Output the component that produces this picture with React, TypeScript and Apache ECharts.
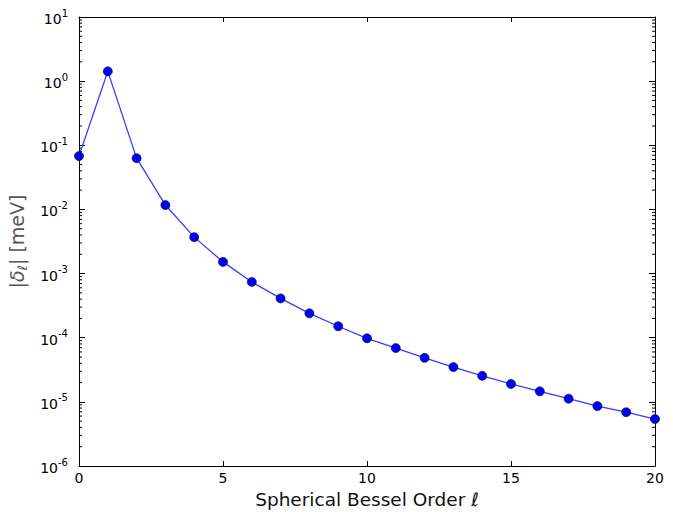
import React, { useEffect, useRef } from "react";
import * as echarts from "echarts";

const orders = [0, 1, 2, 3, 4, 5, 6, 7, 8, 9, 10, 11, 12, 13, 14, 15, 16, 17, 18, 19, 20];
const deltas = [
  0.068, 1.42, 0.063, 0.0117, 0.0037, 0.00152, 0.00074, 0.00041, 0.00024, 0.000151,
  9.8e-5, 6.9e-5, 4.85e-5, 3.48e-5, 2.55e-5, 1.9e-5, 1.46e-5, 1.12e-5, 8.6e-6, 6.9e-6, 5.4e-6,
];
const xTicks = [0, 5, 10, 15, 20];
const yExponents = [-6, -5, -4, -3, -2, -1, 0, 1];
const minorMultipliers = [2, 3, 4, 5, 6, 7, 8, 9];

const FONT = "DejaVu Sans";

export default function App() {
  const ref = useRef<HTMLDivElement>(null);
  useEffect(() => {
    if (!ref.current) return;
    const chart = echarts.init(ref.current, undefined, { renderer: "svg" });
    const minorVals: number[][] = [];
    for (let i = 0; i < yExponents.length - 1; i++) {
      for (const k of minorMultipliers) {
        minorVals.push([0, k * Math.pow(10, yExponents[i])]);
      }
    }
    const yMin = Math.pow(10, yExponents[0]);
    const yMax = Math.pow(10, yExponents[yExponents.length - 1]);
    const yLabel = {
      show: true,
      fontFamily: FONT,
      color: "#000",
      margin: 11,
      formatter: (v: number) => {
        const e = Math.round(Math.log10(v));
        return `{b|10}{s|${e}}`;
      },
      rich: {
        b: { fontSize: 14, fontFamily: FONT, color: "#000", verticalAlign: "bottom", lineHeight: 18 },
        s: { fontSize: 10, fontFamily: FONT, color: "#000", verticalAlign: "bottom", lineHeight: 18, padding: [0, 0, 8, 0] },
      },
    };
    const axisLine = { show: true, onZero: false, lineStyle: { color: "#000", width: 1 } };
    const nameColor = "#555";
    chart.setOption({
      animation: false,
      backgroundColor: "#fff",
      grid: { left: 79, top: 17, right: 18, bottom: 46, containLabel: false, outerBoundsMode: "none" },
      xAxis: [
        {
          type: "value",
          min: 0,
          max: 20,
          interval: 5,
          axisLine,
          axisTick: { show: true, inside: true, length: 5, lineStyle: { color: "#000" } },
          axisLabel: {
            show: true,
            fontFamily: FONT,
            fontSize: 14,
            color: "#000",
            margin: 5,
            customValues: xTicks,
          },
          splitLine: { show: false },
          name: "Spherical Bessel Order ℓ",
          nameLocation: "middle",
          nameGap: 22,
          nameTextStyle: { fontFamily: FONT, fontSize: 18.5, color: "#111" },
        },
        {
          type: "value",
          position: "top",
          min: 0,
          max: 20,
          interval: 5,
          axisLine,
          axisTick: { show: true, inside: true, length: 5, lineStyle: { color: "#000" } },
          axisLabel: { show: false },
          splitLine: { show: false },
        },
      ],
      yAxis: [
        {
          type: "log",
          logBase: 10,
          min: yMin,
          max: yMax,
          axisLine,
          axisTick: { show: true, inside: true, length: 6, lineStyle: { color: "#000" } },
          axisLabel: yLabel,
          splitLine: { show: false },
          name: "{n||}{d|δ}{sub|ℓ}{n|| [meV]}",
          nameLocation: "middle",
          nameGap: 50,
          nameRotate: 90,
          nameTextStyle: {
            fontFamily: FONT,
            fontSize: 19,
            color: nameColor,
            rich: {
              n: { fontFamily: FONT, fontSize: 19, color: nameColor, verticalAlign: "bottom", lineHeight: 22 },
              d: { fontFamily: FONT, fontSize: 19, color: nameColor, fontStyle: "italic", verticalAlign: "bottom", lineHeight: 22 },
              sub: { fontFamily: FONT, fontSize: 13, color: nameColor, fontStyle: "italic", verticalAlign: "bottom", lineHeight: 22, padding: [0, 0, -3, 0] },
            },
          },
        },
        {
          type: "log",
          logBase: 10,
          min: yMin,
          max: yMax,
          position: "right",
          axisLine,
          axisTick: { show: true, inside: true, length: 6, lineStyle: { color: "#000" } },
          axisLabel: { show: false },
          splitLine: { show: false },
        },
      ],
      series: [
        {
          type: "custom",
          xAxisIndex: 0,
          yAxisIndex: 0,
          silent: true,
          clip: false,
          z: 1,
          data: minorVals,
          renderItem: (params: any, api: any) => {
            const v = api.value(1);
            const p = api.coord([0, v]);
            const q = api.coord([20, v]);
            return {
              type: "group",
              children: [
                { type: "line", shape: { x1: p[0], y1: p[1], x2: p[0] + 3, y2: p[1] }, style: { stroke: "#000", lineWidth: 1 } },
                { type: "line", shape: { x1: q[0] - 3, y1: q[1], x2: q[0], y2: q[1] }, style: { stroke: "#000", lineWidth: 1 } },
              ],
            };
          },
        },
        {
          type: "line",
          xAxisIndex: 0,
          yAxisIndex: 0,
          data: orders.map((o, i) => [o, deltas[i]]),
          symbol: "circle",
          symbolSize: 9,
          clip: false,
          z: 3,
          lineStyle: { color: "#3a3aff", width: 1.3 },
          itemStyle: { color: "#0000ff", borderColor: "#000", borderWidth: 0.6 },
        },
      ],
    });
    return () => chart.dispose();
  }, []);
  return <div ref={ref} style={{ width: 673, height: 512, position: "absolute", left: 0, top: 0 }} />;
}
